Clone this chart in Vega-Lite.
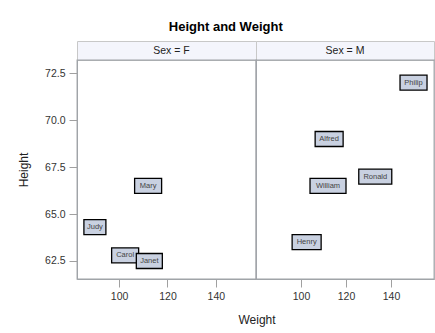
{
  "$schema": "https://vega.github.io/schema/vega-lite/v6.json",
  "background": "white",
  "padding": {"left": 16, "top": 20, "right": 0, "bottom": 4},
  "datasets": {
    "students": [
      {"Name": "Judy", "Sex": "F", "Weight": 90, "Height": 64.3},
      {"Name": "Carol", "Sex": "F", "Weight": 102.5, "Height": 62.8},
      {"Name": "Janet", "Sex": "F", "Weight": 112.5, "Height": 62.5},
      {"Name": "Mary", "Sex": "F", "Weight": 112, "Height": 66.5},
      {"Name": "Alfred", "Sex": "M", "Weight": 112.5, "Height": 69},
      {"Name": "William", "Sex": "M", "Weight": 112, "Height": 66.5},
      {"Name": "Henry", "Sex": "M", "Weight": 102.5, "Height": 63.5},
      {"Name": "Ronald", "Sex": "M", "Weight": 133, "Height": 67},
      {"Name": "Philip", "Sex": "M", "Weight": 150, "Height": 72}
    ],
    "headers": [
      {"Sex": "F", "label": "Sex = F"},
      {"Sex": "M", "label": "Sex = M"}
    ]
  },
  "title": {
    "text": "Height and Weight",
    "font": "Liberation Sans",
    "fontSize": 13,
    "fontWeight": "bold",
    "color": "#000000",
    "anchor": "middle",
    "frame": "bounds",
    "offset": 7
  },
  "bounds": "flush",
  "spacing": 0,
  "columns": 2,
  "concat": [
    {
      "width": 179,
      "height": 19,
      "view": {"fill": "#f4f5fc", "stroke": "#c8c8c8"},
      "data": {"name": "headers"},
      "transform": [{"filter": "datum.Sex == 'F'"}],
      "mark": {"type": "text", "font": "Liberation Sans", "fontSize": 10.5, "fill": "#222222", "baseline": "middle", "dx": 5},
      "encoding": {"text": {"field": "label"}}
    },
    {
      "width": 178,
      "height": 19,
      "view": {"fill": "#f4f5fc", "stroke": "#c8c8c8"},
      "data": {"name": "headers"},
      "transform": [{"filter": "datum.Sex == 'M'"}],
      "mark": {"type": "text", "font": "Liberation Sans", "fontSize": 10.5, "fill": "#222222", "baseline": "middle"},
      "encoding": {"text": {"field": "label"}}
    },
    {
      "width": 179,
      "height": 219,
      "view": {"stroke": "#a0a4a8", "strokeWidth": 1.3},
      "data": {"name": "students"},
      "transform": [{"filter": "datum.Sex == 'F'"}],
      "encoding": {
        "x": {
          "field": "Weight", "type": "quantitative",
          "scale": {"domain": [82.6, 156.6], "nice": false, "zero": false},
          "axis": {"values": [100, 120, 140], "title": "Weight", "titleX": 179.5, "titleAlign": "center", "titlePadding": 13}
        },
        "y": {
          "field": "Height", "type": "quantitative",
          "scale": {"domain": [61.54, 73.21], "nice": false, "zero": false},
          "axis": {"values": [62.5, 65, 67.5, 70, 72.5], "format": ".1f", "title": "Height", "titlePadding": 14}
        }
      },
      "layer": [
        {
          "mark": {"type": "point", "filled": true, "size": 900, "fill": "#c9d1e1", "stroke": "#000000", "strokeWidth": 1.3, "opacity": 1},
          "encoding": {
            "shape": {
              "field": "Name", "type": "nominal", "legend": null,
              "scale": {
                "domain": ["Judy", "Carol", "Janet", "Mary", "Alfred", "William", "Henry", "Ronald", "Philip"],
                "range": [
                  "M-0.733,-0.5H0.733V0.5H-0.733Z",
                  "M-0.9,-0.5H0.9V0.5H-0.9Z",
                  "M-0.867,-0.5H0.867V0.5H-0.867Z",
                  "M-0.9,-0.5H0.9V0.5H-0.9Z",
                  "M-0.933,-0.5H0.933V0.5H-0.933Z",
                  "M-1.2,-0.5H1.2V0.5H-1.2Z",
                  "M-0.967,-0.5H0.967V0.5H-0.967Z",
                  "M-1.1,-0.5H1.1V0.5H-1.1Z",
                  "M-0.9,-0.5H0.9V0.5H-0.9Z"
                ]
              }
            }
          }
        },
        {
          "mark": {"type": "text", "font": "Liberation Sans", "fontSize": 7.5, "fill": "#444444", "baseline": "middle"},
          "encoding": {"text": {"field": "Name"}}
        }
      ]
    },
    {
      "width": 178,
      "height": 219,
      "view": {"stroke": "#a0a4a8", "strokeWidth": 1.3},
      "data": {"name": "students"},
      "transform": [{"filter": "datum.Sex == 'M'"}],
      "encoding": {
        "x": {
          "field": "Weight", "type": "quantitative",
          "scale": {"domain": [80, 159.1], "nice": false, "zero": false},
          "axis": {"values": [100, 120, 140], "title": null}
        },
        "y": {
          "field": "Height", "type": "quantitative",
          "scale": {"domain": [61.54, 73.21], "nice": false, "zero": false},
          "axis": null
        }
      },
      "layer": [
        {
          "mark": {"type": "point", "filled": true, "size": 900, "fill": "#c9d1e1", "stroke": "#000000", "strokeWidth": 1.3, "opacity": 1},
          "encoding": {
            "shape": {
              "field": "Name", "type": "nominal", "legend": null,
              "scale": {
                "domain": ["Judy", "Carol", "Janet", "Mary", "Alfred", "William", "Henry", "Ronald", "Philip"],
                "range": [
                  "M-0.733,-0.5H0.733V0.5H-0.733Z",
                  "M-0.9,-0.5H0.9V0.5H-0.9Z",
                  "M-0.867,-0.5H0.867V0.5H-0.867Z",
                  "M-0.9,-0.5H0.9V0.5H-0.9Z",
                  "M-0.933,-0.5H0.933V0.5H-0.933Z",
                  "M-1.2,-0.5H1.2V0.5H-1.2Z",
                  "M-0.967,-0.5H0.967V0.5H-0.967Z",
                  "M-1.1,-0.5H1.1V0.5H-1.1Z",
                  "M-0.9,-0.5H0.9V0.5H-0.9Z"
                ]
              }
            }
          }
        },
        {
          "mark": {"type": "text", "font": "Liberation Sans", "fontSize": 7.5, "fill": "#444444", "baseline": "middle"},
          "encoding": {"text": {"field": "Name"}}
        }
      ]
    }
  ],
  "config": {
    "axis": {
      "grid": false,
      "domainColor": "#a0a4a8",
      "tickColor": "#a0a0a0",
      "tickSize": 8,
      "labelFont": "Liberation Sans",
      "labelFontSize": 10.5,
      "labelColor": "#333333",
      "labelPadding": 4,
      "titleFont": "Liberation Sans",
      "titleFontSize": 12,
      "titleFontWeight": "normal",
      "titleColor": "#222222"
    }
  }
}
